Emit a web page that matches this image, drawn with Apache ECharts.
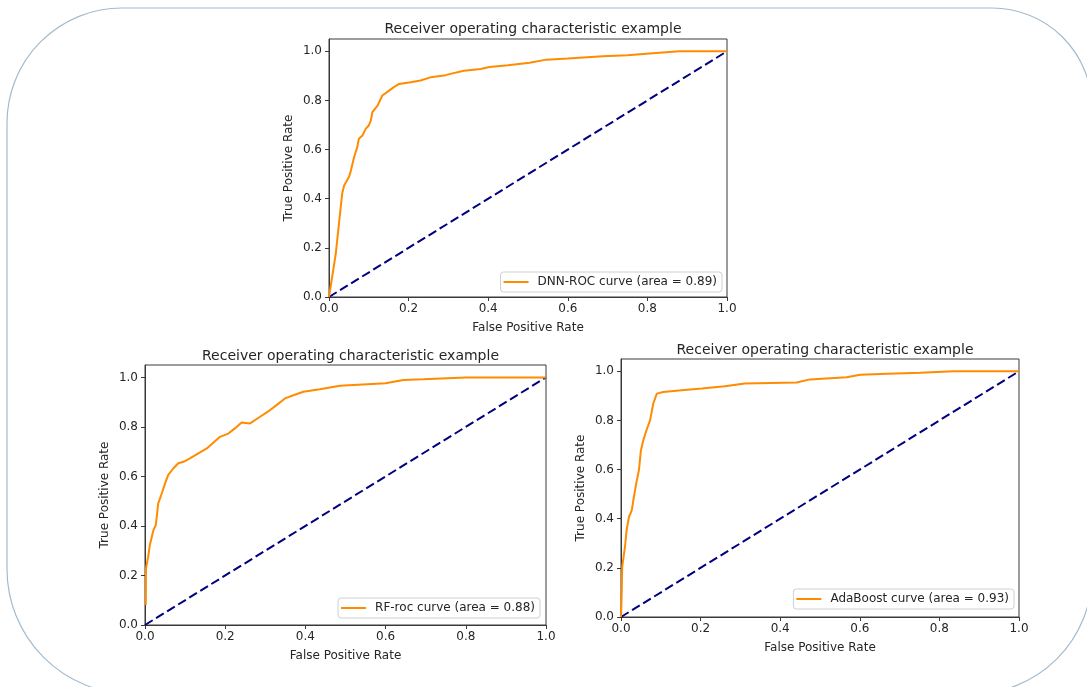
<!DOCTYPE html>
<html>
<head>
<meta charset="utf-8">
<script src="https://cdn.jsdelivr.net/npm/echarts@6/dist/echarts.min.js"></script>
<style>
  html, body { margin: 0; padding: 0; background: #fff; }
  #chart { width: 1087px; height: 687px; }
</style>
</head>
<body>
<div id="chart"></div>
<script>
// ROC points
const dnnFpr = [0, 0.017, 0.033, 0.038, 0.05, 0.054, 0.063, 0.071, 0.075, 0.084, 0.092, 0.1, 0.105, 0.109, 0.122, 0.134, 0.151, 0.163, 0.176, 0.205, 0.23, 0.255, 0.289, 0.305, 0.339, 0.381, 0.403, 0.45, 0.504, 0.546, 0.6, 0.688, 0.75, 0.797, 0.88, 0.92, 1.0];
const dnnTpr = [0, 0.176, 0.42, 0.454, 0.488, 0.508, 0.569, 0.61, 0.644, 0.657, 0.684, 0.698, 0.718, 0.752, 0.779, 0.82, 0.84, 0.854, 0.867, 0.874, 0.881, 0.894, 0.901, 0.908, 0.921, 0.928, 0.936, 0.943, 0.953, 0.966, 0.971, 0.98, 0.984, 0.99, 1.0, 1.0, 1.0];

const rfFpr = [0.002, 0.0025, 0.008, 0.012, 0.021, 0.027, 0.033, 0.042, 0.05, 0.058, 0.071, 0.083, 0.096, 0.112, 0.133, 0.154, 0.187, 0.208, 0.224, 0.241, 0.262, 0.287, 0.312, 0.328, 0.349, 0.37, 0.395, 0.436, 0.486, 0.6, 0.644, 0.694, 0.8, 1.0];
const rfTpr = [0.081, 0.229, 0.276, 0.323, 0.383, 0.404, 0.491, 0.532, 0.572, 0.606, 0.633, 0.653, 0.659, 0.673, 0.693, 0.713, 0.76, 0.773, 0.794, 0.818, 0.814, 0.841, 0.868, 0.888, 0.915, 0.928, 0.942, 0.952, 0.966, 0.976, 0.989, 0.992, 1.0, 1.0];

const adaFpr = [0, 0.0017, 0.003, 0.01, 0.014, 0.02, 0.027, 0.031, 0.039, 0.045, 0.05, 0.056, 0.064, 0.073, 0.081, 0.09, 0.106, 0.152, 0.203, 0.261, 0.311, 0.441, 0.475, 0.567, 0.601, 0.668, 0.752, 0.836, 1.0];
const adaTpr = [0, 0.095, 0.204, 0.285, 0.353, 0.407, 0.434, 0.475, 0.55, 0.597, 0.678, 0.719, 0.76, 0.8, 0.868, 0.909, 0.916, 0.923, 0.93, 0.939, 0.95, 0.954, 0.967, 0.976, 0.986, 0.99, 0.994, 1.0, 1.0];

const diagX = [0, 1];
const diagY = [0, 1];

const seriesNames = ['DNN-ROC curve (area = 0.89)', 'RF-roc curve (area = 0.88)', 'AdaBoost curve (area = 0.93)'];
const yTicks = [0, 0.2, 0.4, 0.6, 0.8, 1.0];
const titleText = 'Receiver operating characteristic example';

const FONT = 'DejaVu Sans';
const INK = '#262626';
const SPINE = '#3a3a3a';

const pairs = (xs, ys) => xs.map((x, i) => [x, ys[i]]);

// plot boxes: top, bottom-left, bottom-right
const boxes = [
    { left: 329, top: 39, width: 398, height: 258, titleTop: 17, legendRight: 365, legendTop: 272 },
    { left: 145, top: 365, width: 401, height: 260, titleTop: 344, legendRight: 547, legendTop: 598 },
    { left: 621, top: 359, width: 398, height: 258, titleTop: 338, legendRight: 73, legendTop: 589 }
];
const curves = [pairs(dnnFpr, dnnTpr), pairs(rfFpr, rfTpr), pairs(adaFpr, adaTpr)];

const option = {
    animation: false,
    backgroundColor: '#fff',
    graphic: [{
        type: 'rect',
        shape: { x: 7, y: 8, width: 1085, height: 686, r: [115, 100, 120, 125] },
        style: { fill: 'none', stroke: '#a3bbce', lineWidth: 1.2 },
        silent: true
    }],
    title: boxes.map(b => ({
        text: titleText,
        left: b.left + b.width / 2,
        top: b.titleTop,
        textAlign: 'center',
        textStyle: { fontFamily: FONT, fontSize: 14, fontWeight: 'normal', color: INK }
    })),
    legend: boxes.map((b, i) => ({
        data: [seriesNames[i]],
        right: b.legendRight,
        top: b.legendTop,
        orient: 'vertical',
        icon: 'rect',
        itemWidth: 25,
        itemHeight: 2,
        itemGap: 0,
        padding: [4, 5, 4, 3],
        borderColor: '#d0d0d0',
        borderWidth: 1,
        borderRadius: 3,
        backgroundColor: 'rgba(255,255,255,0.8)',
        selectedMode: false,
        textStyle: { fontFamily: FONT, fontSize: 12, color: INK, padding: [0, 0, 0, 4] }
    })),
    grid: boxes.map(b => ({
        left: b.left, top: b.top, width: b.width, height: b.height,
        show: true, borderColor: SPINE, borderWidth: 1, containLabel: false
    })),
    xAxis: boxes.map((b, i) => ({
        type: 'value', gridIndex: i, min: 0, max: 1, interval: 0.2,
        name: 'False Positive Rate', nameLocation: 'middle', nameGap: 25,
        nameTextStyle: { fontFamily: FONT, fontSize: 12, color: INK },
        axisLine: { show: true, onZero: false, lineStyle: { color: SPINE, width: 1 } },
        axisTick: { show: true, length: 4, lineStyle: { color: SPINE } },
        axisLabel: { fontFamily: FONT, fontSize: 12, color: INK, margin: 6, formatter: v => v.toFixed(1) },
        splitLine: { show: false }
    })),
    yAxis: boxes.map((b, i) => ({
        type: 'value', gridIndex: i, min: 0, max: 1.05,
        name: 'True Positive Rate', nameLocation: 'middle', nameGap: 34,
        nameTextStyle: { fontFamily: FONT, fontSize: 12, color: INK },
        axisLine: { show: true, onZero: false, lineStyle: { color: SPINE, width: 1 } },
        axisTick: { show: true, length: 4, customValues: yTicks, lineStyle: { color: SPINE } },
        axisLabel: { fontFamily: FONT, fontSize: 12, color: INK, margin: 7, customValues: yTicks, formatter: v => v.toFixed(1) },
        splitLine: { show: false }
    })),
    series: []
};

boxes.forEach((b, i) => {
    option.series.push({
        name: seriesNames[i],
        type: 'line',
        xAxisIndex: i, yAxisIndex: i,
        data: curves[i],
        showSymbol: false,
        color: '#ff8c00',
        lineStyle: { color: '#ff8c00', width: 2 },
        z: 3
    });
    option.series.push({
        name: 'diag' + i,
        type: 'line',
        xAxisIndex: i, yAxisIndex: i,
        data: pairs(diagX, diagY),
        showSymbol: false,
        lineStyle: { color: '#000080', width: 2, type: [9, 4] },
        z: 2
    });
});

const chart = echarts.init(document.getElementById('chart'));
chart.setOption(option);
</script>
</body>
</html>
